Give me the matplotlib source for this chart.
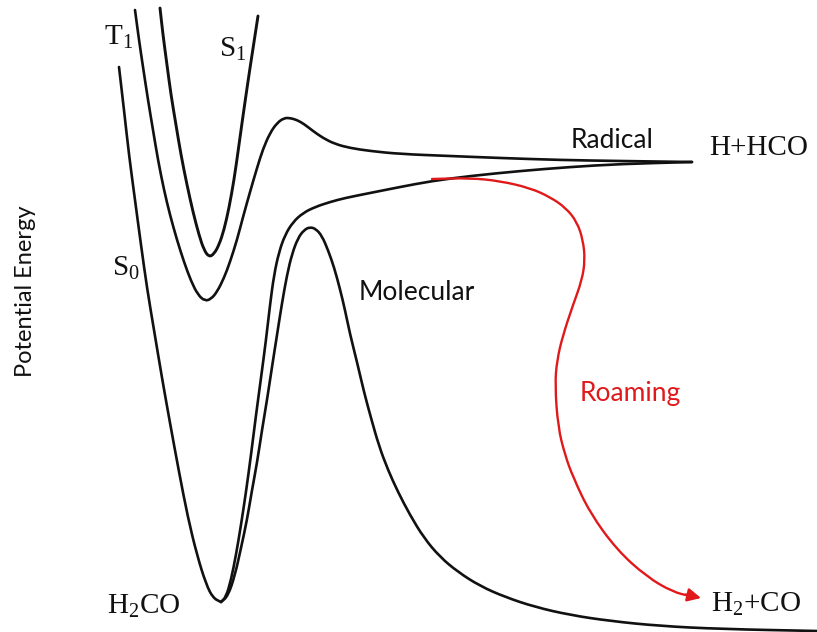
import numpy as np
import matplotlib
matplotlib.use("Agg")
import matplotlib.pyplot as plt
from matplotlib.path import Path
from matplotlib.patches import PathPatch

plt.rcParams['mathtext.fontset'] = 'custom'
plt.rcParams['mathtext.rm'] = 'Liberation Serif'
plt.rcParams['mathtext.it'] = 'Liberation Serif:italic'

# schematic curves (x to the right, y downward in pixels)
s1_x = [160, 163, 167, 171, 176, 181, 187, 193, 199, 204, 209, 214, 219, 224, 229, 234, 238, 242, 246, 250, 254, 258]
s1_y = [8, 35, 65, 95, 125, 155, 185, 212, 235, 250, 257, 254, 245, 230, 208, 180, 152, 123, 95, 68, 42, 16]

t1_x = [135, 139, 143, 148, 153, 158, 164, 170, 177, 184, 191, 198, 205, 211, 217, 224, 230, 237, 243, 250,
        257, 263, 270, 277, 284, 290, 297, 304, 313, 323, 335, 350, 370, 400, 450, 500, 560, 620, 692]
t1_y = [10, 40, 67, 100, 130, 160, 190, 215, 240, 262, 281, 295, 301, 299, 292, 278, 262, 240, 217, 192,
        168, 149, 133, 123, 118, 118, 120, 124, 131, 138, 144, 148, 151, 154, 156, 158, 160, 161, 162]

s0_left_x = [119, 124, 129, 135, 141, 147, 154, 162, 170, 179, 188, 197, 206, 213, 221]
s0_left_y = [67, 110, 155, 200, 245, 288, 330, 378, 423, 472, 518, 555, 584, 598, 602]

radical_x = [221, 226, 231, 236, 241, 246, 251, 256, 261, 266, 270, 274, 279, 285, 293, 303, 315, 330,
             345, 370, 400, 432, 470, 520, 570, 620, 692]
radical_y = [602, 597, 580, 555, 525, 492, 455, 415, 378, 340, 305, 275, 252, 235, 222, 213, 207, 202,
             198, 193, 187, 181, 176, 171, 167, 164, 162]

molec_x = [221, 228, 235, 241, 247, 252, 257, 262, 267, 272, 277, 282, 287, 292, 298, 304, 310, 316, 322,
           328, 334, 340, 345, 350, 357, 364, 371, 379, 388, 398, 410, 424, 440, 458, 480, 505, 535, 570,
           610, 660, 720, 817]
molec_y = [602, 596, 575, 548, 520, 490, 463, 430, 400, 367, 335, 303, 275, 254, 238, 230, 227, 229, 236,
           250, 267, 289, 310, 334, 362, 392, 418, 446, 470, 492, 515, 538, 557, 572, 586, 597, 607, 615,
           621, 626, 629, 631]

roam_x = [432, 470, 500, 530, 550, 566, 577, 583, 585, 582, 573, 563, 557, 555, 558, 565, 573, 590, 617,
          647, 673, 690]
roam_y = [179, 178, 181, 188, 197, 208, 222, 240, 260, 280, 305, 335, 360, 385, 427, 455, 477, 513, 550,
          577, 592, 596]
roam_tip = (701, 598)

black = '#111111'
red = '#e0191b'


def smooth(ax, xs, ys, color, lw):
    pts = list(zip(xs, ys))
    verts = [pts[0]]
    codes = [Path.MOVETO]
    mids = [((pts[i][0] + pts[i + 1][0]) / 2, (pts[i][1] + pts[i + 1][1]) / 2) for i in range(len(pts) - 1)]
    verts.append(mids[0])
    codes.append(Path.LINETO)
    for i in range(1, len(pts) - 1):
        verts += [pts[i], mids[i]]
        codes += [Path.CURVE3, Path.CURVE3]
    verts.append(pts[-1])
    codes.append(Path.LINETO)
    ax.add_patch(PathPatch(Path(verts, codes), fill=False, edgecolor=color, lw=lw,
                           capstyle='round', joinstyle='round'))


fig = plt.figure(figsize=(8.17, 6.32), dpi=100)
ax = fig.add_axes([0, 0, 1, 1])
ax.set_xlim(0, 817)
ax.set_ylim(632, 0)
ax.axis('off')

lw = 1.9
smooth(ax, s1_x, s1_y, black, 2.1)
smooth(ax, t1_x, t1_y, black, lw)
smooth(ax, s0_left_x, s0_left_y, black, lw)
smooth(ax, radical_x, radical_y, black, lw)
smooth(ax, molec_x, molec_y, black, lw)
smooth(ax, roam_x, roam_y, red, 1.7)
ax.annotate('', xy=roam_tip, xytext=(roam_x[-1] - 4, roam_y[-1] - 1.5),
            arrowprops=dict(arrowstyle='-|>', color=red, lw=1.7, mutation_scale=20,
                            shrinkA=0, shrinkB=0))

serif = dict(fontsize=21, color=black, ha='center', va='center')
ax.text(119, 37, r'$\mathrm{T_1}$', **serif)
ax.text(233, 49, r'$\mathrm{S_1}$', **serif)
ax.text(126, 268, r'$\mathrm{S_0}$', **serif)
ax.text(144, 606, r'$\mathrm{H_2CO}$', **serif)
ax.text(759, 148, 'H+HCO', family='Liberation Serif', **serif)
ax.text(756, 604, r'$\mathrm{H_2{+}CO}$', **serif)

sans = dict(family='Lato', fontsize=19, ha='center', va='center')
ax.text(612, 141, 'Radical', color=black, **sans)
ax.text(417, 293, 'Molecular', color=black, **sans)
ax.text(630, 394, 'Roaming', color=red, **sans)
ax.text(26, 291, 'Potential Energy', family='Lato', fontsize=17, color=black,
        rotation=90, ha='center', va='center')

fig.savefig('out.png', dpi=100, facecolor='white')
